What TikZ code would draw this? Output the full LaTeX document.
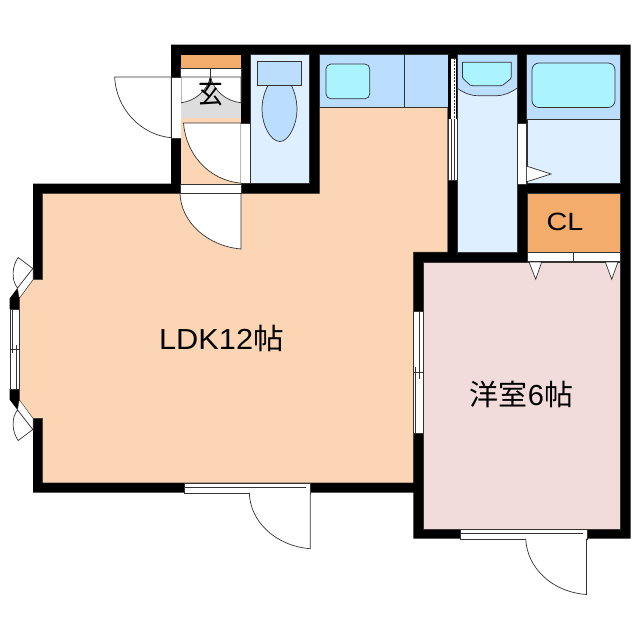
\documentclass[tikz,border=0pt]{standalone}
\usepackage{fontspec}
\setmainfont{Liberation Sans}
\newfontfamily\cjk{Noto Sans CJK JP}
\definecolor{peach}{HTML}{FCD5B4}
\definecolor{pinkroom}{HTML}{F2DCDB}
\definecolor{closet}{HTML}{F4AC6C}
\definecolor{wetlight}{HTML}{DEF0FF}
\definecolor{wetmid}{HTML}{BBDEFF}
\definecolor{basin}{HTML}{ABF3FF}
\definecolor{hall}{HTML}{DDDDDD}
\definecolor{ln}{HTML}{333333}
\tikzset{
  room/.style={draw=ln,line width=0.4pt},
  fixture/.style={draw=ln,line width=0.7pt,fill=basin},
  opening/.style={fill=white,draw=ln,line width=0.4pt},
  leaf/.style={fill=white,draw=ln,line width=0.7pt},
  thin/.style={draw=ln,line width=0.8pt},
  label/.style={font=\fontsize{29}{30}\selectfont,inner sep=0pt,text=black}
}
\begin{document}
\begin{tikzpicture}[x=1pt,y=-1pt]
\useasboundingbox (0,0) rectangle (640,640);
\fill[white] (0,0) rectangle (640,640);
% outer wall mass
\fill[black] (171,44.5)--(630.5,44.5)--(630.5,538.7)--(413.3,538.7)--(413.3,492.7)--(33,492.7)--(33,183.5)--(171,183.5)--cycle;
% LDK with kitchen arm and bay
\path[room,fill=peach] (42.7,193.5)--(319.5,193.5)--(319.5,107.3)--(447.7,107.3)--(447.7,252)--(413.3,252)--(413.3,482.8)--(42.7,482.8)--(42.7,418.3)--(33,418.3)--(19.3,401.7)--(19.3,298.3)--(33,279.7)--(42.7,279.7)--cycle;
% bay black corners and window
\fill[black] (17.5,288)--(19.3,298.3)--(19.3,309)--(9.7,309)--(9.7,298.3)--cycle;
\fill[black] (17.5,410)--(19.3,399.7)--(19.3,389)--(9.7,389)--(9.7,399.7)--cycle;
\path[opening] (9.9,309) rectangle (19.3,389);
\draw[thin] (12,309)--(12,353);
\draw[thin] (16.7,345)--(16.7,389);
\draw[thin] (9.9,349)--(19.3,349);
\path[opening] (17.5,288)--(33,268)--(33,279.7)--(19.3,298.3)--cycle;
\path[opening] (17.5,410)--(33,430)--(33,418.3)--(19.3,399.7)--cycle;
\path[leaf] (18.2,257.5)--(32.8,268.5)--(17.5,288) .. controls (11,280) and (12,266) .. (18.2,257.5)--cycle;
\path[leaf] (18.2,440.5)--(32.8,429.5)--(17.5,410) .. controls (11,418) and (12,432) .. (18.2,440.5)--cycle;
% entry
\fill[closet] (181,54.5) rectangle (241,67.7);
\path[opening] (180,68) rectangle (241,77);
\draw[thin] (210.5,68)--(210.5,77);
\fill[hall] (181,77) rectangle (241,118);
\path[leaf,fill=white] (181,77)--(241,77)--(241,102.8) .. controls (226,101) and (214,91) .. (210.5,77) .. controls (207,91) and (195,101) .. (181,102.8)--cycle;
\fill[peach] (181,118) rectangle (241,183.5);
\path[leaf] (241,183.2)--(241,123)--(183.5,123) .. controls (186,154) and (208,180) .. (241,183.2)--cycle;
\fill[white] (241.3,123) rectangle (249.7,183.5);
\draw[ln,line width=0.4pt] (241,123)--(250,123) (241,183.5)--(250,183.5);
% entry outside door
\path[opening,draw=none] (171.5,77) rectangle (180.5,137.7);
\path[leaf] (171.2,77)--(114.7,77) .. controls (116,109) and (141,135) .. (171.2,137.7)--cycle;
\draw[ln,line width=0.4pt] (171.2,77)--(180.5,77) (171.2,137.7)--(180.5,137.7);
% door into LDK
\path[opening] (180,184) rectangle (241,193.5);
\path[leaf] (241,193.5)--(241,249) .. controls (207,246) and (181,222) .. (180,193.5)--cycle;
% toilet
\path[room,fill=wetlight] (250,54.5) rectangle (309.3,183);
\path[leaf,fill=wetmid] (268,85.5) -- (291.5,85.5) .. controls (295,93) and (297,101) .. (297,110) .. controls (297,124) and (289,141.5) .. (280,141.5) .. controls (270,141.5) and (262,124) .. (262,110) .. controls (262,101) and (264,93) .. (268,85.5)--cycle;
\path[leaf,fill=wetmid] (257.6,61.2) rectangle (301.8,85.4);
% kitchen
\path[room,fill=wetmid] (319.5,54.5) rectangle (447.7,107.3);
\draw[ln,line width=0.7pt] (404.3,54.5)--(404.3,107.3);
\path[fixture,rounded corners=5pt] (326,64) rectangle (369.8,98.8);
% sliding door to corridor
\path[opening] (448,58) rectangle (457.2,180);
\fill[black] (447.8,54.5) rectangle (450.8,119);
\fill[black] (455.8,54.5) rectangle (457.3,119);
\draw[thin,dash pattern=on 2pt off 1.2pt] (454,58)--(454,119);
\draw[thin] (454,119)--(454,180);
\draw[thin] (451.2,119)--(451.2,180);
% corridor
\path[room,fill=wetlight] (457.3,54.5) rectangle (516.8,252);
\fill[wetmid] (457.5,54.7) rectangle (516.6,88.3);
\path[fill=wetmid,draw=ln,line width=0.7pt] (457.3,88.3) .. controls (463,92.5) and (470,95.7) .. (478,95.7)--(496,95.7) .. controls (504,95.7) and (511,92.5) .. (516.8,88.3);
\path[fixture] (462.5,62.2)--(511.2,62.2)--(511.2,77)--(510.5,79) -- (503,85)--(500,85.8)--(473,85.8)--(470,85)--(463.5,79)--(462.5,77)--cycle;
% door to bath
\path[opening] (517.3,122.7) rectangle (526.3,184);
% bath
\path[room,fill=wetlight] (526.7,54.5) rectangle (620.6,183);
\path[room,fill=wetmid,line width=0.7pt] (526.7,54.5) rectangle (620.6,119);
\path[fixture,rounded corners=7pt] (532,63) rectangle (615,107.5);
\path[leaf] (526.9,166.2)--(551,174)--(526.9,181.7);
% closet
\path[room,fill=closet] (526.7,193.4) rectangle (620.6,252);
\path[opening] (527.5,252) rectangle (619.7,261.6);
\draw[thin] (573.5,252)--(573.5,261.6);
% bedroom
\path[room,fill=pinkroom] (423.2,262) rectangle (620.6,528.7);
\path[leaf] (529,262)--(535.7,279.3)--(541.7,262)--cycle;
\path[leaf] (605.3,262)--(611.7,279.3)--(618,262)--cycle;
% window LDK/bedroom
\path[opening] (413.6,311) rectangle (422.7,433.3);
\draw[thin] (419.7,311)--(419.7,379);
\draw[thin] (415.7,366.7)--(415.7,433.3);
\draw[thin] (413.6,372.5)--(422.7,372.5);
% LDK south door
\path[opening] (184,483) rectangle (310.3,492.7);
\draw[thin] (184,487)--(306,487);
\path[leaf] (310.2,492.7)--(310.2,548.7) .. controls (276,546) and (250,522) .. (249.3,492.7);
% bedroom south door
\path[opening] (460,529) rectangle (586.7,538.7);
\draw[thin] (460,533.3)--(583,533.3);
\path[leaf] (586.5,538.7)--(586.5,594.5) .. controls (552,592) and (527,568) .. (525.7,538.7);
% labels
\node[label] (ldk) at (221.5,338) {\scalebox{1.06}[1]{LDK12{\cjk 帖}}};
\node[label] (yoshitsu) at (521.5,394.5) {{\cjk 洋室}6{\cjk 帖}};
\node[label,font=\fontsize{25}{26}\selectfont] (cl) at (565,222) {\scalebox{1.15}[1]{CL}};
\node[label,font=\cjk\fontsize{29}{30}\selectfont] (genkan) at (210.5,92.5) {\scalebox{0.85}[1]{玄}};
\end{tikzpicture}
\end{document}
